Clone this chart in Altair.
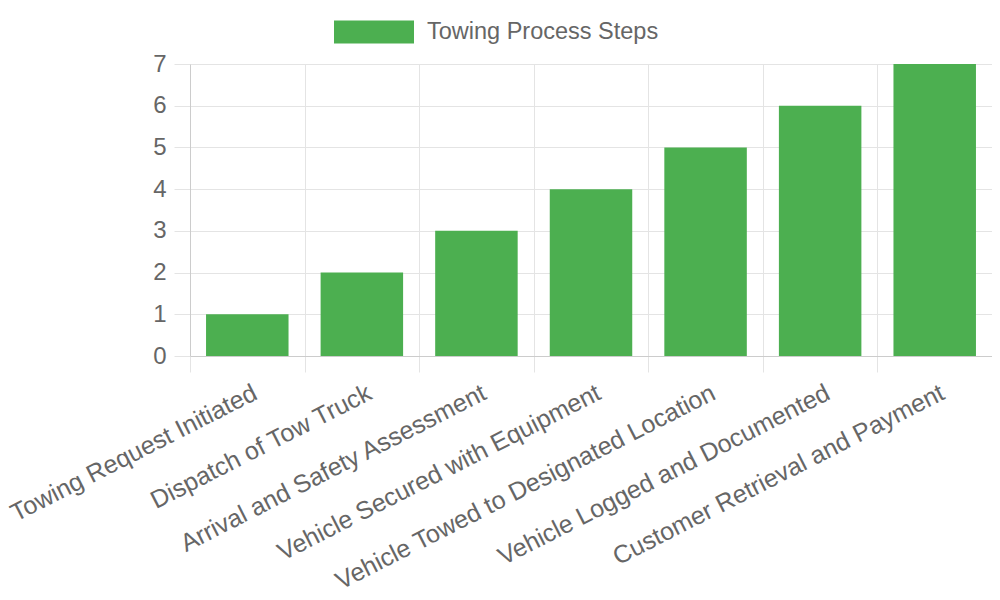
import altair as alt
import pandas as pd

steps = [
    "Towing Request Initiated",
    "Dispatch of Tow Truck",
    "Arrival and Safety Assessment",
    "Vehicle Secured with Equipment",
    "Vehicle Towed to Designated Location",
    "Vehicle Logged and Documented",
    "Customer Retrieval and Payment",
]
values = [1, 2, 3, 4, 5, 6, 7]
series_name = "Towing Process Steps"
y_ticks = [0, 1, 2, 3, 4, 5, 6, 7]

df = pd.DataFrame({"step": steps, "value": values, "series": [series_name] * len(steps)})

FONT = "Liberation Sans"
TXT = "#666666"
GRID = "#e4e4e4"
DOMAIN = "#cccccc"

W = 802
H = 292
STEP = W / 7.0
EDGE = 0.14 * STEP

bars = alt.Chart(df).mark_bar(color="#4caf50").encode(
    x=alt.X(
        "step:N",
        sort=steps,
        title=None,
        scale=alt.Scale(paddingInner=0.28, paddingOuter=0.14),
        axis=alt.Axis(
            bandPosition=0,
            tickOffset=-EDGE,
            grid=True,
            gridColor=GRID,
            tickColor=GRID,
            tickSize=16,
            domainColor=DOMAIN,
            labelAngle=333,
            labelAlign="right",
            labelBaseline="top",
            labelOffset=18,
            labelPadding=8,
            labelFont=FONT,
            labelFontSize=25,
            labelColor=TXT,
            labelOverlap=False,
            labelLimit=0,
        ),
    ),
    y=alt.Y(
        "value:Q",
        title=None,
        scale=alt.Scale(domain=[0, 7], nice=False),
        axis=alt.Axis(
            values=y_ticks,
            grid=True,
            gridColor=GRID,
            tickColor=GRID,
            tickSize=16,
            domainColor=DOMAIN,
            labelPadding=8,
            labelFont=FONT,
            labelFontSize=24,
            labelColor=TXT,
        ),
    ),
    color=alt.Color(
        "series:N",
        scale=alt.Scale(domain=[series_name], range=["#4caf50"]),
        legend=alt.Legend(
            title=None,
            orient="none",
            legendX=144,
            legendY=-72,
            symbolType="M-1,-0.2875H1V0.2875H-1Z",
            symbolSize=6400,
            symbolStrokeWidth=0,
            symbolOpacity=1,
            labelFont=FONT,
            labelFontSize=23.5,
            labelColor=TXT,
            labelOffset=13,
            labelLimit=0,
        ),
    ),
)

right_edge = alt.Chart(df).mark_bar(opacity=0).encode(
    y=alt.Y(
        "value:Q",
        axis=alt.Axis(
            orient="right",
            labels=False,
            ticks=False,
            grid=False,
            domainColor=GRID,
            title=None,
        ),
    ),
)

chart = (
    alt.layer(bars, right_edge)
    .resolve_axis(y="independent")
    .properties(
        width=W,
        height=H,
        padding={"left": 182, "top": 56, "right": 0, "bottom": 236},
        autosize=alt.AutoSizeParams(type="none"),
    )
    .configure_view(stroke=None)
    .configure(background="white")
)

chart.save("out.html", embed_options={"renderer": "svg", "actions": False})
